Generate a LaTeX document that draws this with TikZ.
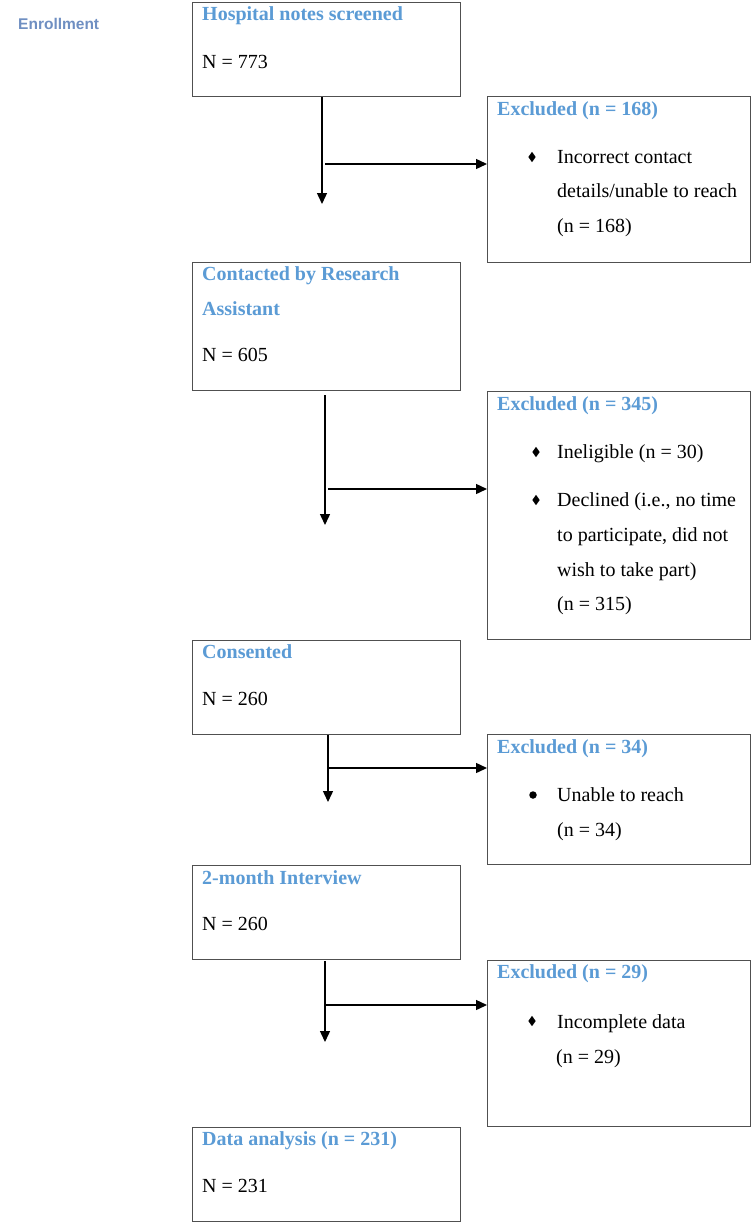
\documentclass[tikz,border=0pt]{standalone}
\usepackage{fontspec}
\setmainfont{Liberation Serif}
\newfontfamily\labelsans{Liberation Sans}
\usetikzlibrary{arrows.meta,shapes.geometric}
\definecolor{titleblue}{HTML}{5B9BD5}
\definecolor{enrollblue}{HTML}{6F8FC2}
\definecolor{boxgray}{HTML}{505050}
\tikzset{
  x=1pt, y=-1pt,
  box/.style={draw=boxgray, line width=1.2pt, anchor=north west, inner sep=0pt},
  ttl/.style={anchor=base west, inner sep=0pt, text=titleblue, font=\fontsize{20}{24}\selectfont\bfseries},
  txt/.style={anchor=base west, inner sep=0pt, text=black, font=\fontsize{20}{24}\selectfont},
  dia/.style={diamond, fill=black, inner sep=0pt, minimum width=7.5pt, minimum height=10.5pt},
  dot/.style={circle, fill=black, inner sep=0pt, minimum size=7.5pt},
  arr/.style={line width=1.4pt, -{Triangle[length=11pt,width=10pt]}},
  ln/.style={line width=1.4pt}
}
\begin{document}
\begin{tikzpicture}
\useasboundingbox (0,0) rectangle (752,1223);
\fill[white] (0,0) rectangle (752,1223);

\node[anchor=base west, inner sep=0pt, text=enrollblue, font=\labelsans\bfseries\fontsize{15.5}{18}\selectfont] (enr) at (18,30) {Enrollment};

% left boxes
\node[box, minimum width=268pt, minimum height=94pt] (b1) at (192,2) {};
\node[box, minimum width=268pt, minimum height=128pt] (b2) at (192,262) {};
\node[box, minimum width=268pt, minimum height=94pt] (b3) at (192,640) {};
\node[box, minimum width=268pt, minimum height=94pt] (b4) at (192,865) {};
\node[box, minimum width=268pt, minimum height=94pt] (b5) at (192,1127) {};

% right boxes
\node[box, minimum width=263pt, minimum height=166pt] (r1) at (487,96) {};
\node[box, minimum width=263pt, minimum height=248pt] (r2) at (487,391) {};
\node[box, minimum width=263pt, minimum height=130pt] (r3) at (487,734) {};
\node[box, minimum width=263pt, minimum height=166pt] (r4) at (487,960) {};

% left texts
\node[ttl] (b1t) at (202,21) {Hospital notes screened};
\node[txt] (b1n) at (202,68) {N = 773};
\node[ttl] (b2t) at (202,280) {Contacted by Research};
\node[ttl] (b2u) at (202,315) {Assistant};
\node[txt] (b2n) at (202,361) {N = 605};
\node[ttl] (b3t) at (202,658) {Consented};
\node[txt] (b3n) at (202,705) {N = 260};
\node[ttl] (b4t) at (202,884) {2-month Interview};
\node[txt] (b4n) at (202,930) {N = 260};
\node[ttl] (b5t) at (202,1145) {Data analysis (n = 231)};
\node[txt] (b5n) at (202,1192) {N = 231};

% right texts
\node[ttl] (r1t) at (497,115) {Excluded (n = 168)};
\node[dia] (r1d) at (532,157) {};
\node[txt] (r1a) at (557,163) {Incorrect contact};
\node[txt] (r1b) at (557,197) {details/unable to reach};
\node[txt] (r1c) at (557,232) {(n = 168)};

\node[ttl] (r2t) at (497,410) {Excluded (n = 345)};
\node[dia] (r2d1) at (536,452) {};
\node[txt] (r2a) at (557,458) {Ineligible (n = 30)};
\node[dia] (r2d2) at (536,500) {};
\node[txt] (r2b) at (557,506) {Declined (i.e., no time};
\node[txt] (r2c) at (557,541) {to participate, did not};
\node[txt] (r2e) at (557,576) {wish to take part)};
\node[txt] (r2f) at (557,610) {(n = 315)};

\node[ttl] (r3t) at (497,753) {Excluded (n = 34)};
\node[dot] (r3d) at (533,795) {};
\node[txt] (r3a) at (557,801) {Unable to reach};
\node[txt] (r3b) at (557,836) {(n = 34)};

\node[ttl] (r4t) at (497,978) {Excluded (n = 29)};
\node[dia] (r4d) at (532,1021) {};
\node[txt] (r4a) at (557,1028) {Incomplete data};
\node[txt] (r4b) at (556,1063) {(n = 29)};

% connectors
\coordinate (e1) at (322,204);
\coordinate (s1) at (325,164);
\draw[arr] (b1.south -| e1) -- (e1);
\draw[arr] (s1) -- (s1 -| r1.west);

\coordinate (e2) at (325,525);
\coordinate (s2) at (328,489);
\draw[arr] (325,395) -- (e2);
\draw[arr] (s2) -- (s2 -| r2.west);

\coordinate (e3) at (328,802);
\coordinate (s3) at (328,768);
\draw[arr] (b3.south -| e3) -- (e3);
\draw[arr] (s3) -- (s3 -| r3.west);

\coordinate (e4) at (325,1042);
\coordinate (s4) at (325,1005);
\draw[arr] (325,961) -- (e4);
\draw[arr] (s4) -- (s4 -| r4.west);
\end{tikzpicture}
\end{document}
